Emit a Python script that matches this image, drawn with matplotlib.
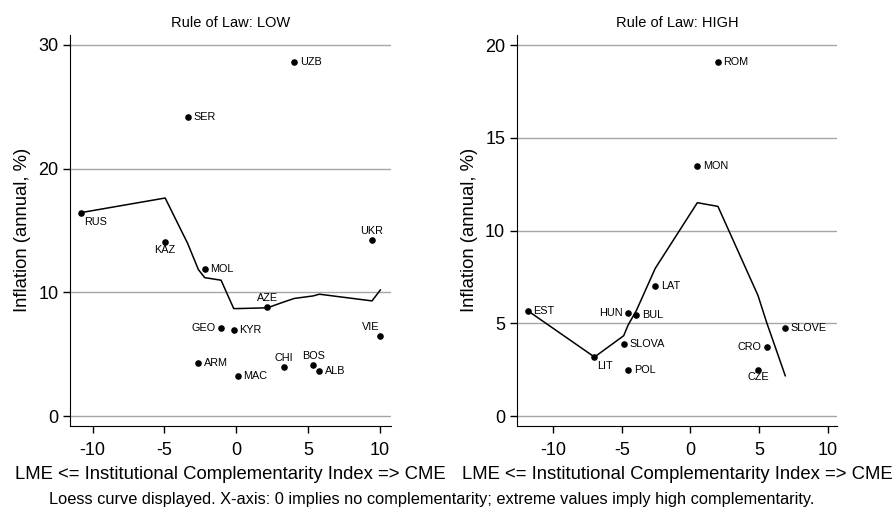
import numpy as np
import matplotlib.pyplot as plt

plt.rcParams['font.family'] = ['Liberation Sans', 'DejaVu Sans']
plt.rcParams['axes.unicode_minus'] = False

# Rule of Law: LOW
low_names = ['UZB', 'SER', 'RUS', 'UKR', 'KAZ', 'MOL', 'AZE', 'GEO',
             'KYR', 'VIE', 'ARM', 'CHI', 'BOS', 'ALB', 'MAC']
low_x = [4.04, -3.38, -10.81, 9.44, -4.95, -2.2, 2.16, -1.06,
         -0.18, 10.02, -2.64, 3.32, 5.34, 5.78, 0.1]
low_y = [28.6, 24.2, 16.45, 14.24, 14.08, 11.9, 8.81, 7.15,
         6.98, 6.45, 4.27, 3.95, 4.11, 3.63, 3.25]
low_fit_x = [-10.81, -4.95, -3.38, -2.64, -2.2, -1.06, -0.18, 0.1,
             2.16, 3.32, 4.04, 5.34, 5.78, 9.44, 10.02]
low_fit_y = [16.45, 17.63, 13.95, 11.85, 11.2, 10.99, 8.7, 8.7,
             8.76, 9.24, 9.52, 9.72, 9.86, 9.32, 10.2]

# Rule of Law: HIGH
high_names = ['ROM', 'MON', 'EST', 'LAT', 'HUN', 'BUL', 'SLOVE', 'SLOVA',
              'CRO', 'LIT', 'POL', 'CZE']
high_x = [2.0, 0.5, -11.87, -2.57, -4.55, -3.95, 6.91, -4.87,
          5.55, -7.0, -4.55, 4.92]
high_y = [19.1, 13.46, 5.68, 7.02, 5.55, 5.46, 4.76, 3.86,
          3.74, 3.18, 2.5, 2.5]
high_fit_x = [-11.87, -7.0, -4.87, -4.55, -3.95, -2.57, 0.5, 2.0, 4.92, 5.55, 6.91]
high_fit_y = [5.68, 3.18, 4.33, 4.9, 5.68, 7.96, 11.5, 11.3, 6.5, 5.05, 2.17]

# marker label placement (clock position like stata)
low_pos = {'RUS': 'br', 'UKR': 't', 'KAZ': 'b', 'AZE': 't', 'GEO': 'l',
           'VIE': 'tl', 'CHI': 't', 'BOS': 't'}
high_pos = {'HUN': 'l', 'CRO': 'l', 'LIT': 'br', 'CZE': 'b'}
offs = {'r': (4, 0, 'left', 'center'),
        'l': (-4, 0, 'right', 'center'),
        't': (0, 3, 'center', 'bottom'),
        'b': (0, -2, 'center', 'top'),
        'br': (2, -3, 'left', 'top'),
        'tl': (-1, 3, 'right', 'bottom')}

fig = plt.figure(figsize=(8.92, 5.07), dpi=100)
ax1 = fig.add_axes([0.0788, 0.1604, 0.3592, 0.7706])
ax2 = fig.add_axes([0.5796, 0.1604, 0.3584, 0.7706])


def panel(ax, names, x, y, fx, fy, pos, title, yticks, xlim, ylim):
    for t in yticks:
        ax.axhline(t, color='#a6a6a6', lw=1, zorder=1)
    ax.plot(fx, fy, color='black', lw=1.1, zorder=2)
    ax.scatter(x, y, s=14, color='black', zorder=3)
    for n, xi, yi in zip(names, x, y):
        dx, dy, ha, va = offs[pos.get(n, 'r')]
        ax.annotate(n, (xi, yi), xytext=(dx, dy), textcoords='offset points',
                    ha=ha, va=va, fontsize=7.8)
    ax.set_xlim(xlim)
    ax.set_ylim(ylim)
    ax.set_yticks(yticks)
    ax.set_xticks([-10, -5, 0, 5, 10])
    ax.spines['top'].set_visible(False)
    ax.spines['right'].set_visible(False)
    ax.tick_params(labelsize=13, length=5, width=1)
    ax.tick_params(axis='x', pad=7)
    ax.set_title(title, fontsize=10.5, pad=6)
    ax.set_xlabel('LME <= Institutional Complementarity Index => CME',
                  fontsize=13.3, labelpad=5)
    ax.set_ylabel('Inflation (annual, %)', fontsize=13.3, labelpad=5)


panel(ax1, low_names, low_x, low_y, low_fit_x, low_fit_y, low_pos,
      'Rule of Law: LOW', [0, 10, 20, 30], (-11.55, 10.74), (-0.76, 30.8))
panel(ax2, high_names, high_x, high_y, high_fit_x, high_fit_y, high_pos,
      'Rule of Law: HIGH', [0, 5, 10, 15, 20], (-12.65, 10.66), (-0.52, 20.54))

fig.text(0.055, 0.006, 'Loess curve displayed. X-axis: 0 implies no complementarity; '
         'extreme values imply high complementarity.', fontsize=11.8, va='baseline')

fig.savefig('out.png', dpi=100)
